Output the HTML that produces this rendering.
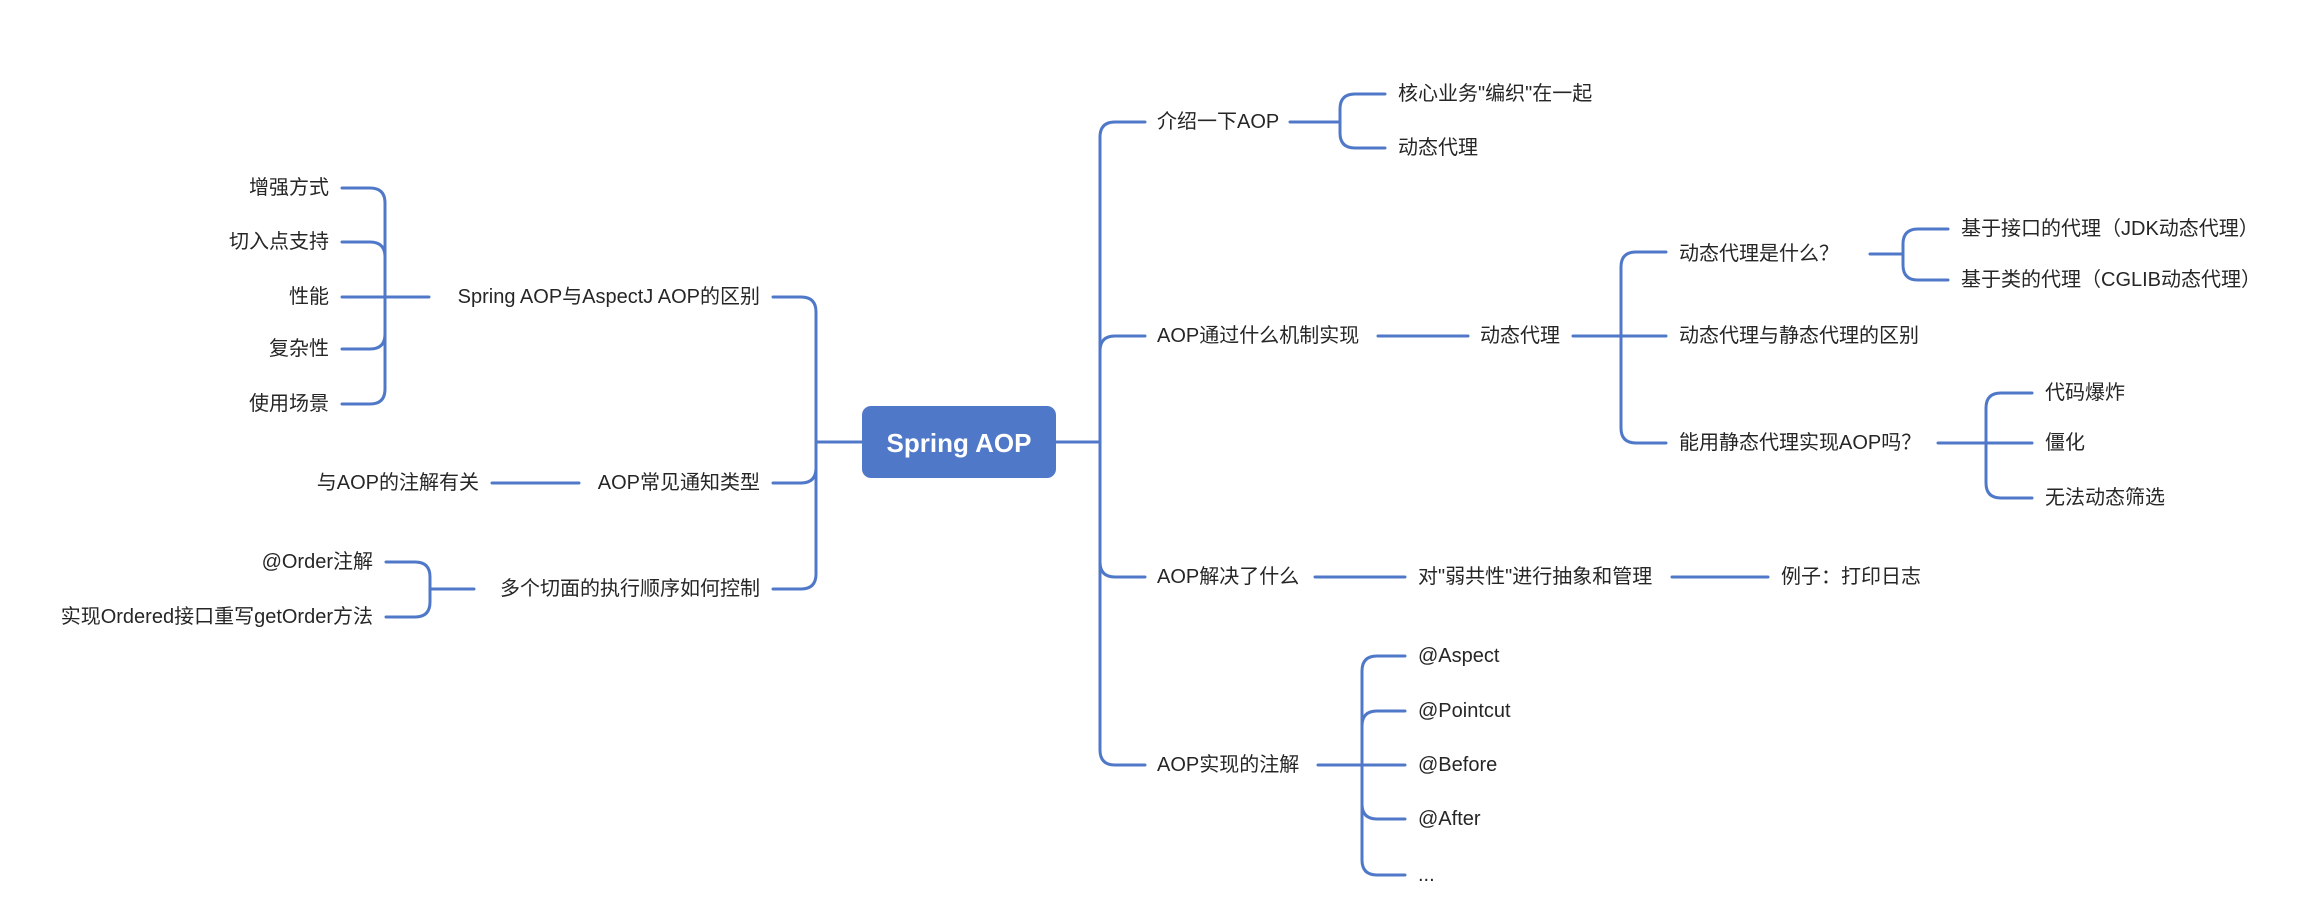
<!DOCTYPE html>
<html><head><meta charset="utf-8"><style>
html,body{margin:0;padding:0;background:#fff;}
svg{display:block}
text{font-family:"Liberation Sans","Noto Sans CJK SC",sans-serif;font-size:20px;fill:#262626;dominant-baseline:central}
.e{text-anchor:end}
path{fill:none;stroke:#5078c8;stroke-width:3;stroke-linecap:round}
</style></head><body>
<svg width="2302" height="916" viewBox="0 0 2302 916" xmlns="http://www.w3.org/2000/svg">
<!-- right spine -->
<path d="M1056 442 H1100 V137 Q1100 122 1115 122 H1145"/>
<path d="M1100 351 Q1100 336 1115 336 H1145"/>
<path d="M1056 442 H1100 V750 Q1100 765 1115 765 H1145"/>
<path d="M1100 562 Q1100 577 1115 577 H1145"/>
<!-- 介绍一下AOP -->
<path d="M1290 122 H1340 V109 Q1340 94 1355 94 H1385"/>
<path d="M1340 122 V133 Q1340 148 1355 148 H1385"/>
<!-- 机制 -->
<path d="M1378 336 H1468"/>
<path d="M1573 336 H1666"/>
<path d="M1621 336 V267 Q1621 252 1636 252 H1666"/>
<path d="M1621 336 V428 Q1621 443 1636 443 H1666"/>
<path d="M1870 254 H1903 V244 Q1903 229 1918 229 H1948"/>
<path d="M1903 254 V265 Q1903 280 1918 280 H1948"/>
<path d="M1938 443 H2032"/>
<path d="M1986 443 V408 Q1986 393 2001 393 H2032"/>
<path d="M1986 443 V483 Q1986 498 2001 498 H2032"/>
<!-- 解决 -->
<path d="M1315 577 H1405"/>
<path d="M1672 577 H1768"/>
<!-- 注解 -->
<path d="M1318 765 H1405"/>
<path d="M1362 765 V671 Q1362 656 1377 656 H1405"/>
<path d="M1362 726 Q1362 711 1377 711 H1405"/>
<path d="M1362 765 V860 Q1362 875 1377 875 H1405"/>
<path d="M1362 804 Q1362 819 1377 819 H1405"/>
<!-- left spine -->
<path d="M862 442 H816 V312 Q816 297 801 297 H773"/>
<path d="M816 442 V468 Q816 483 801 483 H773"/>
<path d="M816 442 V574 Q816 589 801 589 H773"/>
<!-- Spring AOP vs AspectJ -->
<path d="M429 297 H342"/>
<path d="M385 297 V203 Q385 188 370 188 H342"/>
<path d="M385 257 Q385 242 370 242 H342"/>
<path d="M385 297 V389 Q385 404 370 404 H342"/>
<path d="M385 334 Q385 349 370 349 H342"/>
<!-- 通知类型 -->
<path d="M579 483 H492"/>
<!-- 多个切面 -->
<path d="M474 589 H430 V577 Q430 562 415 562 H386"/>
<path d="M430 589 V602 Q430 617 415 617 H386"/>

<rect x="862" y="406" width="194" height="72" rx="9" fill="#5078c8"/>
<text x="959" y="443" style="fill:#fff;font-size:26px;font-weight:bold;text-anchor:middle">Spring AOP</text>

<text x="1157" y="122">介绍一下AOP</text>
<text x="1398" y="94">核心业务"编织"在一起</text>
<text x="1398" y="148">动态代理</text>
<text x="1157" y="336">AOP通过什么机制实现</text>
<text x="1480" y="336">动态代理</text>
<text x="1679" y="254">动态代理是什么？</text>
<text x="1679" y="336">动态代理与静态代理的区别</text>
<text x="1679" y="443">能用静态代理实现AOP吗？</text>
<text x="1961" y="229">基于接口的代理（JDK动态代理）</text>
<text x="1961" y="280">基于类的代理（CGLIB动态代理）</text>
<text x="2045" y="393">代码爆炸</text>
<text x="2045" y="443">僵化</text>
<text x="2045" y="498">无法动态筛选</text>
<text x="1157" y="577">AOP解决了什么</text>
<text x="1418" y="577">对"弱共性"进行抽象和管理</text>
<text x="1781" y="577">例子：打印日志</text>
<text x="1157" y="765">AOP实现的注解</text>
<text x="1418" y="656">@Aspect</text>
<text x="1418" y="711">@Pointcut</text>
<text x="1418" y="765">@Before</text>
<text x="1418" y="819">@After</text>
<text x="1418" y="875">...</text>

<text class="e" x="760" y="297">Spring AOP与AspectJ AOP的区别</text>
<text class="e" x="329" y="188">增强方式</text>
<text class="e" x="329" y="242">切入点支持</text>
<text class="e" x="329" y="297">性能</text>
<text class="e" x="329" y="349">复杂性</text>
<text class="e" x="329" y="404">使用场景</text>
<text class="e" x="760" y="483">AOP常见通知类型</text>
<text class="e" x="479" y="483">与AOP的注解有关</text>
<text class="e" x="760" y="589">多个切面的执行顺序如何控制</text>
<text class="e" x="373" y="562">@Order注解</text>
<text class="e" x="373" y="617">实现Ordered接口重写getOrder方法</text>
</svg>
</body></html>
